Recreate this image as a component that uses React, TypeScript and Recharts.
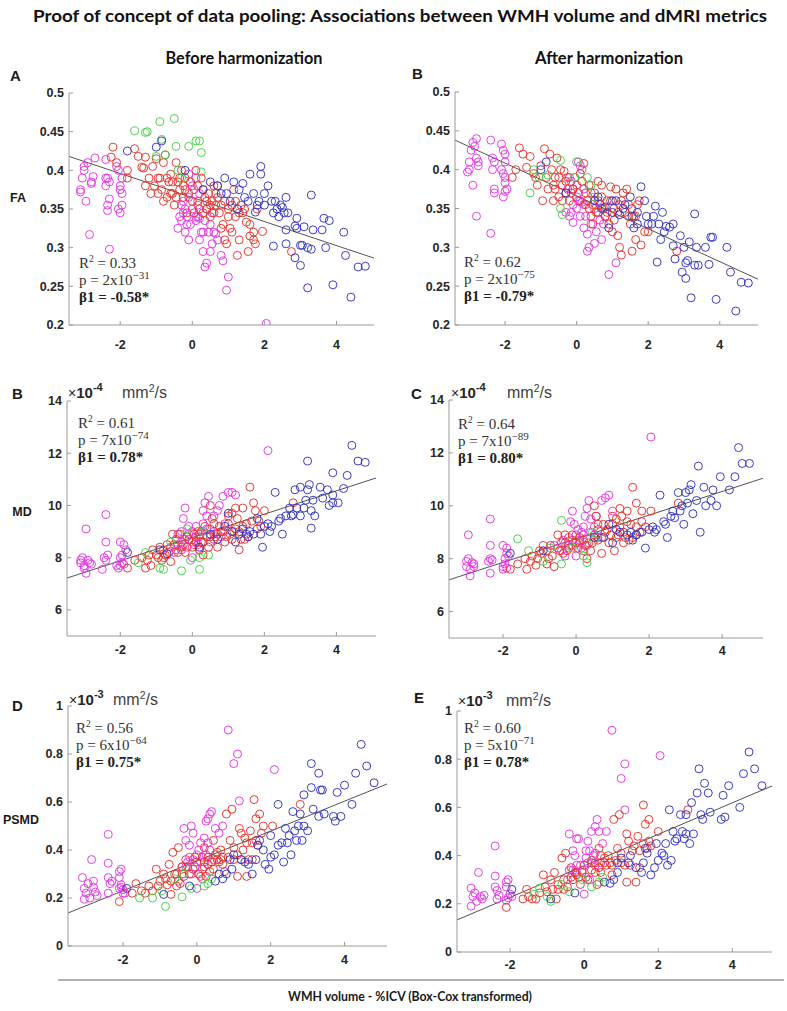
import React from 'react';
import { ScatterChart, Scatter, XAxis, YAxis, ReferenceLine } from 'recharts';

type P = number[][];

// ---------- FA, before harmonization ----------
const faBeforeMagenta: P = [[-3.1,0.375],[-3.1,0.372],[-3.05,0.39],[-3.0,0.405],[-3.0,0.4],[-2.95,0.36],[-2.9,0.41],[-2.8,0.385],[-2.8,0.383],[-2.75,0.392],[-2.7,0.416],[-2.85,0.317],[-2.4,0.414],[-2.4,0.39],[-2.35,0.39],[-2.4,0.38],[-2.35,0.355],[-2.35,0.348],[-2.3,0.385],[-2.3,0.363],[-2.3,0.298],[-2.05,0.4],[-2.0,0.38],[-2.0,0.375],[-1.95,0.37],[-2.05,0.35],[-1.95,0.355],[-2.0,0.345],[-1.95,0.39],[-2.1,0.405],
  [-0.3,0.355],[-0.25,0.36],[-0.2,0.35],[-0.1,0.365],[-0.15,0.34],[-0.3,0.335],[-0.35,0.34],[-0.2,0.32],[-0.1,0.31],[-0.15,0.33],[0.0,0.38],[0.05,0.375],[0.1,0.34],[0.15,0.34],[0.2,0.338],[0.25,0.32],[0.3,0.32],[0.3,0.295],[0.35,0.275],[0.4,0.28],[0.5,0.295],[0.6,0.32],[0.65,0.318],[0.8,0.29],[0.85,0.283],[1.0,0.262],[0.95,0.245],[2.05,0.202],[0.1,0.39],[0.2,0.37],[-0.1,0.395],[0.4,0.35],[0.5,0.33],[0.7,0.31],
  [-0.25,0.345],[0.0,0.35],[0.15,0.355],[0.1,0.335],[-0.05,0.33],[0.35,0.335],[0.45,0.32],[0.2,0.31],[0.55,0.305],[-0.4,0.325],[0.6,0.345]];
const faBeforeRed: P = [[-2.2,0.43],[-2.25,0.417],[-2.1,0.41],[-1.8,0.4],[-1.8,0.39],[-1.6,0.428],[-1.5,0.418],[-1.4,0.404],[-1.35,0.403],[-1.3,0.417],[-1.2,0.39],[-1.1,0.405],[-1.05,0.38],[-1.0,0.415],[-0.95,0.37],[-0.9,0.39],[-0.85,0.375],[-0.8,0.36],[-0.8,0.41],[-0.75,0.42],[-0.7,0.365],[-0.65,0.385],[-0.6,0.395],[-0.55,0.37],[-0.5,0.355],[-0.45,0.41],[-0.4,0.385],[-0.35,0.375],[-0.3,0.4],[-0.25,0.365],[-0.2,0.39],[-0.1,0.37],[0.0,0.36],[0.1,0.4],[0.15,0.36],[0.2,0.35],[0.25,0.39],[0.3,0.345],[0.35,0.365],[0.4,0.35],[0.45,0.37],[0.5,0.34],[0.55,0.36],[0.6,0.38],[0.65,0.355],[0.7,0.365],[0.75,0.345],[0.85,0.33],[0.9,0.31],[0.95,0.305],[1.0,0.35],[1.05,0.325],[1.1,0.32],[1.15,0.375],[1.2,0.34],[1.25,0.29],[1.3,0.31],[1.35,0.355],[1.4,0.345],[1.5,0.333],[1.55,0.295],[1.6,0.315],[1.7,0.31],[1.75,0.305],[1.8,0.35],[1.95,0.321],[2.75,0.295],[0.8,0.325],[1.2,0.36],[-0.15,0.345],[0.05,0.345],[0.7,0.38],
  [-1.15,0.37],[-0.95,0.39],[-0.7,0.39],[-0.6,0.37],[-0.45,0.365],[-0.35,0.39],[-0.25,0.38],[-0.05,0.385],[0.15,0.38],[0.3,0.375],[0.4,0.36],[0.55,0.345],[0.65,0.37],[0.8,0.355],[0.9,0.36],[1.0,0.34],[1.1,0.355],[1.3,0.345],[1.45,0.35],[1.6,0.33],[1.7,0.32],[0.5,0.355],[-0.55,0.385],[-1.3,0.38],[-0.2,0.375]];
const faBeforeGreen: P = [[-1.6,0.451],[-1.3,0.449],[-1.25,0.45],[-1.0,0.418],[-0.9,0.463],[-0.85,0.44],[-0.75,0.42],[-0.5,0.467],[-0.45,0.431],[-0.4,0.4],[-0.1,0.431],[0.1,0.438],[0.2,0.438],[0.25,0.423],[0.25,0.398],[-0.3,0.39]];
const faBeforeBlue: P = [[-1.8,0.425],[-1.0,0.43],[-0.85,0.438],[-0.2,0.4],[0.5,0.385],[0.7,0.38],[0.9,0.39],[0.95,0.37],[1.15,0.385],[1.3,0.375],[1.4,0.383],[1.6,0.395],[1.7,0.37],[1.8,0.355],[1.9,0.395],[1.9,0.405],[2.0,0.355],[2.1,0.38],[2.2,0.36],[2.3,0.36],[2.35,0.35],[2.4,0.34],[2.5,0.352],[2.55,0.345],[2.6,0.365],[2.65,0.345],[2.6,0.323],[2.9,0.338],[2.85,0.328],[2.9,0.325],[3.0,0.303],[3.05,0.303],[3.1,0.327],[3.2,0.3],[3.3,0.298],[3.3,0.368],[3.35,0.323],[3.6,0.323],[3.65,0.338],[3.8,0.335],[3.7,0.3],[4.2,0.32],[4.25,0.29],[4.4,0.236],[4.6,0.275],[4.8,0.276],[3.2,0.248],[3.9,0.252],[2.25,0.302],[2.6,0.305],[2.85,0.287],[3.0,0.277],[1.25,0.35],[1.55,0.36],[1.75,0.346],
  [1.05,0.36],[1.45,0.365],[2.0,0.37],[2.25,0.345],[2.45,0.355],[1.85,0.36],[0.8,0.37],[0.3,0.375]];
const faBeforeFit: P = [[-3.42,0.418],[5.04,0.2865]];

// ---------- FA, after harmonization ----------
const faAfterMagenta: P = [[-3.0,0.41],[-3.0,0.4],[-3.05,0.397],[-2.95,0.425],[-2.9,0.435],[-2.8,0.44],[-2.85,0.43],[-2.8,0.415],[-2.75,0.41],[-2.75,0.405],[-2.9,0.38],[-2.8,0.34],[-2.4,0.438],[-2.35,0.415],[-2.3,0.41],[-2.35,0.4],[-2.3,0.37],[-2.3,0.375],[-2.4,0.318],[-2.1,0.433],[-2.05,0.425],[-2.0,0.42],[-2.0,0.41],[-2.1,0.4],[-2.05,0.395],[-2.0,0.383],[-2.0,0.372],[-2.05,0.365],[-1.95,0.375],[-2.0,0.39],
  [-0.2,0.39],[-0.15,0.385],[-0.1,0.375],[0.0,0.365],[0.05,0.41],[0.1,0.405],[0.15,0.4],[0.1,0.36],[0.15,0.358],[-0.3,0.345],[-0.2,0.34],[-0.1,0.332],[0.0,0.35],[0.1,0.34],[0.3,0.317],[0.35,0.3],[0.3,0.295],[0.5,0.305],[0.7,0.31],[0.9,0.265],[1.1,0.28],[0.75,0.33],[0.5,0.35],[0.4,0.37],[0.2,0.375],[-0.05,0.39],[0.6,0.36],[0.8,0.34],
  [-0.25,0.375],[0.05,0.37],[0.2,0.355],[-0.1,0.355],[0.25,0.34],[0.4,0.33],[0.55,0.32],[0.2,0.325],[-0.15,0.345],[0.65,0.335]];
const faAfterRed: P = [[-1.6,0.428],[-1.5,0.42],[-1.4,0.403],[-1.3,0.417],[-1.2,0.395],[-1.15,0.39],[-1.0,0.405],[-0.9,0.427],[-0.85,0.39],[-0.75,0.42],[-0.7,0.4],[-0.6,0.39],[-0.55,0.415],[-0.5,0.365],[-0.45,0.4],[-0.4,0.38],[-0.35,0.398],[-0.3,0.37],[-0.25,0.39],[-0.2,0.36],[-0.1,0.375],[0.0,0.38],[0.1,0.395],[0.2,0.408],[0.25,0.37],[0.3,0.36],[0.35,0.35],[0.4,0.34],[0.5,0.37],[0.55,0.345],[0.6,0.385],[0.65,0.355],[0.7,0.38],[0.75,0.35],[0.8,0.34],[0.85,0.36],[0.9,0.33],[0.95,0.378],[1.0,0.32],[1.05,0.35],[1.1,0.375],[1.15,0.315],[1.2,0.3],[1.25,0.29],[1.3,0.37],[1.35,0.345],[1.4,0.375],[1.45,0.34],[1.5,0.33],[1.55,0.295],[1.6,0.34],[1.65,0.31],[1.7,0.355],[1.75,0.36],[1.8,0.303],[1.9,0.32],[2.0,0.32],[2.8,0.295],[-1.8,0.39],[-1.7,0.4],[-0.95,0.36],[-0.65,0.36],[0.45,0.33],[1.2,0.355],
  [-1.1,0.38],[-0.8,0.375],[-0.6,0.375],[-0.4,0.36],[-0.3,0.385],[-0.15,0.37],[0.05,0.36],[0.15,0.385],[0.35,0.38],[0.45,0.355],[0.6,0.345],[0.7,0.365],[0.85,0.345],[0.95,0.36],[1.05,0.335],[1.15,0.345],[1.25,0.36],[1.45,0.355],[1.55,0.35],[1.65,0.34],[0.25,0.355],[-0.65,0.38],[-0.5,0.39]];
const faAfterGreen: P = [[-1.3,0.37],[-1.05,0.39],[-0.8,0.393],[-0.45,0.412],[-0.45,0.35],[-0.4,0.342],[-0.05,0.39],[0.3,0.39],[0.4,0.38],[0.5,0.365],[-1.2,0.4],[0.0,0.41]];
const faAfterBlue: P = [[-1.0,0.4],[-0.85,0.41],[-0.3,0.37],[0.5,0.36],[0.7,0.35],[0.8,0.352],[0.9,0.325],[1.0,0.345],[1.1,0.36],[1.2,0.342],[1.5,0.365],[1.55,0.34],[1.6,0.325],[1.7,0.33],[1.8,0.378],[1.9,0.36],[2.0,0.33],[2.1,0.33],[2.2,0.353],[2.3,0.33],[2.4,0.345],[2.35,0.31],[2.5,0.327],[2.6,0.326],[2.7,0.33],[2.7,0.302],[2.75,0.285],[2.25,0.281],[2.9,0.315],[3.0,0.3],[3.05,0.28],[3.1,0.283],[3.15,0.307],[2.95,0.268],[3.05,0.26],[3.2,0.235],[3.3,0.277],[3.35,0.3],[3.3,0.343],[3.4,0.277],[3.6,0.3],[3.7,0.278],[3.75,0.313],[3.8,0.313],[3.9,0.233],[4.2,0.3],[4.3,0.268],[4.45,0.218],[4.6,0.255],[4.8,0.254],[1.3,0.35],
  [1.0,0.36],[1.35,0.355],[1.7,0.345],[1.95,0.34],[2.15,0.34],[2.45,0.32],[0.6,0.365]];
const faAfterFit: P = [[-3.4,0.438],[5.07,0.259]];

// ---------- MD, before harmonization ----------
const mdBeforeMagenta: P = [[-3.1,7.8],[-3.1,7.9],[-3.05,8.0],[-3.0,7.7],[-3.0,7.6],[-2.95,7.4],[-2.9,7.9],[-2.85,7.8],[-2.8,7.75],[-2.95,9.1],[-2.5,7.55],[-2.45,8.0],[-2.4,7.9],[-2.35,8.1],[-2.4,8.6],[-2.4,9.65],[-2.05,7.6],[-2.0,7.7],[-1.95,7.8],[-1.9,7.75],[-2.0,8.0],[-1.95,8.1],[-1.9,8.5],[-2.0,8.6],[-1.85,8.3],[-2.1,7.7],
  [-0.6,8.4],[-0.5,8.2],[-0.4,8.5],[-0.3,8.3],[-0.3,9.0],[-0.25,9.5],[-0.2,9.9],[-0.2,8.7],[-0.1,8.9],[0.0,8.6],[0.0,8.0],[0.1,9.2],[0.2,8.8],[0.3,9.3],[0.3,9.8],[0.35,10.1],[0.4,9.6],[0.45,10.35],[0.5,9.1],[0.6,9.0],[0.7,9.8],[0.75,10.0],[0.85,10.35],[0.9,9.3],[1.0,10.5],[1.1,10.5],[1.2,10.4],[2.1,12.1],[0.2,8.3],[-0.4,8.9],[0.5,8.6],[0.8,8.8],
  [-0.45,8.3],[-0.3,8.6],[-0.15,8.4],[0.0,9.0],[0.1,8.8],[0.25,9.0],[0.4,9.1],[-0.1,9.2],[0.6,9.6],[0.15,8.5]];
const mdBeforeRed: P = [[-1.8,7.6],[-1.6,7.9],[-1.3,7.6],[-1.25,7.9],[-1.2,8.1],[-1.15,7.7],[-1.0,8.1],[-0.9,8.4],[-0.85,7.9],[-0.8,8.3],[-0.75,8.1],[-0.7,8.5],[-0.6,7.85],[-0.55,8.9],[-0.5,8.5],[-0.4,8.2],[-0.35,8.9],[-0.25,8.5],[-0.2,8.2],[-0.1,8.7],[0.0,8.4],[0.05,8.9],[0.1,8.6],[0.15,9.0],[0.2,8.3],[0.25,8.6],[0.3,8.1],[0.4,8.8],[0.5,10.0],[0.55,9.5],[0.6,8.7],[0.65,8.8],[0.7,8.4],[0.75,9.2],[0.8,9.0],[0.9,8.6],[1.0,9.3],[1.05,8.9],[1.1,9.7],[1.2,9.9],[1.25,9.5],[1.3,8.3],[1.4,9.2],[1.45,8.7],[1.55,8.8],[1.6,10.7],[1.7,10.1],[1.75,9.8],[1.85,9.4],[1.9,9.2],[2.0,9.8],[2.8,10.1],[1.35,8.7],[1.15,9.0],[0.35,9.2],[-1.4,8.0],
  [-1.1,8.3],[-0.95,8.0],[-0.65,8.2],[-0.45,8.7],[-0.3,8.4],[-0.15,8.8],[0.05,8.5],[0.2,8.9],[0.3,8.6],[0.5,8.8],[0.6,9.3],[0.7,8.9],[0.85,9.0],[0.95,8.8],[1.1,8.7],[1.2,9.1],[1.3,9.0],[1.5,9.3],[1.65,9.4],[1.8,9.1],[0.45,8.4],[-0.8,8.0],[1.0,9.6],[1.4,9.9]];
const mdBeforeGreen: P = [[-1.3,8.2],[-1.5,7.8],[-0.9,7.6],[-0.8,7.55],[-0.6,8.6],[-0.3,7.5],[-0.15,9.1],[-0.05,7.9],[0.2,7.55],[0.2,8.0],[0.45,8.1],[0.3,9.0]];
const mdBeforeBlue: P = [[-1.8,8.2],[-0.9,8.3],[-0.7,8.15],[0.2,8.4],[0.5,8.9],[0.9,9.2],[1.0,9.7],[1.2,8.6],[1.3,8.9],[1.4,9.1],[1.5,8.9],[1.6,9.0],[1.8,9.5],[1.9,8.9],[1.95,8.4],[2.0,9.2],[2.1,9.3],[2.2,9.2],[2.3,10.5],[2.4,9.4],[2.5,8.9],[2.6,9.6],[2.7,9.9],[2.75,9.6],[2.8,9.65],[2.85,10.6],[3.0,10.7],[3.0,9.6],[3.1,9.9],[3.15,10.2],[3.2,10.6],[3.25,10.8],[3.3,9.8],[3.35,10.2],[3.4,9.6],[3.2,11.7],[3.55,10.7],[3.3,9.13],[3.62,10.28],[3.8,10.0],[3.9,10.4],[3.75,10.6],[4.05,10.1],[4.3,11.15],[3.9,11.25],[4.2,10.65],[4.43,12.3],[4.6,11.7],[4.8,11.65],[3.9,10.1],
  [1.7,8.9],[2.15,9.0],[2.45,9.5],[2.9,9.9],[1.1,9.0],[0.7,8.7],[1.55,8.8]];
const mdBeforeFit: P = [[-3.48,7.22],[5.1,11.05]];

// ---------- MD, after harmonization ----------
const mdAfterMagenta: P = [[-3.0,7.7],[-3.0,7.9],[-2.95,8.0],[-2.9,7.6],[-2.9,7.35],[-2.85,7.85],[-2.8,7.8],[-2.8,7.7],[-2.95,8.9],[-2.35,7.45],[-2.4,7.9],[-2.35,8.0],[-2.3,7.95],[-2.35,8.5],[-2.35,9.5],[-2.0,7.6],[-2.0,7.7],[-1.95,7.8],[-1.9,7.65],[-1.95,8.0],[-1.9,8.2],[-1.9,8.4],[-2.0,8.5],[-1.85,8.1],
  [-0.6,8.5],[-0.4,8.3],[-0.3,8.6],[-0.2,8.8],[-0.15,9.4],[-0.1,9.8],[-0.1,8.5],[0.0,8.9],[0.0,8.1],[0.1,8.7],[0.15,9.0],[0.2,9.2],[0.25,9.6],[0.3,9.9],[0.35,10.2],[0.4,9.5],[0.5,9.2],[0.6,9.1],[0.7,10.2],[0.8,10.3],[0.9,10.4],[1.0,9.8],[0.6,8.8],[2.05,12.6],[-0.3,8.1],[0.3,8.5],
  [-0.5,8.4],[-0.35,8.7],[-0.2,8.5],[0.05,9.1],[0.1,8.6],[0.2,8.9],[0.4,9.0],[-0.05,9.3],[0.55,9.6],[0.15,8.4]];
const mdAfterRed: P = [[-1.8,7.6],[-1.6,7.8],[-1.35,7.6],[-1.25,7.9],[-1.2,8.1],[-1.1,7.75],[-1.0,8.3],[-0.9,8.5],[-0.8,7.8],[-0.75,8.0],[-0.7,8.5],[-0.6,7.7],[-0.5,8.9],[-0.45,8.3],[-0.35,8.2],[-0.3,8.9],[-0.2,8.4],[-0.1,8.7],[0.0,8.6],[0.1,8.8],[0.2,8.3],[0.25,8.5],[0.3,8.0],[0.45,8.6],[0.5,10.0],[0.55,9.6],[0.6,8.7],[0.7,8.2],[0.75,9.3],[0.8,9.0],[0.9,8.6],[1.0,9.3],[1.05,8.3],[1.1,9.5],[1.2,9.9],[1.25,9.6],[1.3,8.6],[1.4,9.4],[1.45,8.7],[1.55,8.8],[1.55,10.7],[1.65,10.1],[1.8,9.8],[1.8,9.4],[1.9,9.2],[2.05,9.8],[2.8,10.1],[1.35,8.8],[1.15,8.9],[-1.4,8.0],
  [-1.05,8.0],[-0.95,8.2],[-0.65,8.1],[-0.4,8.6],[-0.25,8.3],[-0.1,8.9],[0.05,8.4],[0.2,8.7],[0.35,8.6],[0.5,8.9],[0.6,9.3],[0.7,8.8],[0.85,9.1],[0.95,8.9],[1.1,8.8],[1.2,9.2],[1.3,9.0],[1.5,9.3],[1.65,9.2],[1.75,9.0],[0.4,8.3],[-0.8,8.3],[1.0,9.6],[1.4,9.8]];
const mdAfterGreen: P = [[-1.6,8.75],[-1.3,8.3],[-0.9,7.9],[-0.7,8.4],[-0.4,9.45],[-0.4,7.8],[-0.1,8.4],[0.3,7.85],[0.2,8.1],[0.5,8.7],[0.45,9.0]];
const mdAfterBlue: P = [[-1.8,8.2],[-0.9,8.3],[0.5,8.8],[0.9,9.3],[1.0,8.6],[1.2,9.0],[1.4,8.9],[1.5,9.0],[1.65,8.9],[1.8,9.0],[1.9,8.4],[2.0,9.1],[2.1,9.2],[2.2,9.1],[2.3,10.4],[2.4,9.4],[2.5,8.8],[2.6,9.6],[2.65,9.8],[2.7,9.55],[2.8,10.5],[2.9,10.0],[3.0,10.5],[3.05,10.1],[3.1,10.6],[3.15,10.8],[3.2,9.7],[3.3,10.2],[3.35,11.5],[3.4,9.0],[3.5,10.7],[3.55,10.0],[3.7,10.2],[3.75,10.6],[3.85,10.0],[3.95,11.1],[4.2,10.6],[4.35,11.1],[4.45,12.2],[4.55,11.6],[4.75,11.6],[2.95,9.3],
  [1.65,8.9],[2.15,9.0],[2.45,9.3],[2.85,9.8],[1.1,9.1],[0.75,8.8],[1.55,8.7]];
const mdAfterFit: P = [[-3.48,7.2],[5.12,11.04]];

// ---------- PSMD, before harmonization ----------
const psBeforeMagenta: P = [[-3.1,0.285],[-3.05,0.24],[-3.0,0.22],[-3.05,0.195],[-2.95,0.26],[-2.9,0.2],[-2.85,0.36],[-2.8,0.27],[-2.8,0.245],[-2.75,0.225],[-2.7,0.21],[-2.4,0.465],[-2.4,0.345],[-2.4,0.285],[-2.35,0.26],[-2.4,0.22],[-2.3,0.27],[-2.1,0.31],[-2.05,0.32],[-2.1,0.285],[-2.05,0.255],[-2.0,0.235],[-2.0,0.22],[-2.05,0.245],[-1.95,0.22],[-2.1,0.24],
  [-0.5,0.27],[-0.4,0.3],[-0.35,0.49],[-0.3,0.44],[-0.25,0.35],[-0.2,0.42],[-0.15,0.5],[-0.1,0.47],[-0.1,0.36],[0.0,0.38],[0.0,0.24],[0.1,0.43],[0.15,0.32],[0.2,0.45],[0.25,0.52],[0.3,0.53],[0.35,0.55],[0.4,0.56],[0.5,0.49],[0.6,0.47],[0.7,0.5],[0.85,0.9],[1.0,0.76],[1.1,0.8],[1.15,0.605],[2.1,0.735],[0.2,0.35],[-0.3,0.33],[0.35,0.4],
  [-0.4,0.33],[-0.2,0.37],[-0.05,0.33],[0.1,0.35],[0.25,0.38],[0.05,0.4],[0.3,0.43],[-0.15,0.3],[0.45,0.36],[0.15,0.28]];
const psBeforeRed: P = [[-2.1,0.185],[-1.75,0.22],[-1.65,0.26],[-1.4,0.22],[-1.3,0.25],[-1.2,0.23],[-1.1,0.32],[-1.0,0.27],[-0.9,0.3],[-0.8,0.255],[-0.75,0.34],[-0.7,0.215],[-0.65,0.39],[-0.6,0.3],[-0.5,0.41],[-0.45,0.26],[-0.4,0.33],[-0.3,0.36],[-0.2,0.3],[-0.1,0.32],[0.0,0.35],[0.1,0.29],[0.15,0.37],[0.2,0.41],[0.3,0.34],[0.35,0.31],[0.45,0.44],[0.5,0.38],[0.55,0.36],[0.6,0.35],[0.65,0.4],[0.7,0.37],[0.75,0.31],[0.8,0.55],[0.9,0.44],[0.95,0.57],[1.0,0.36],[1.1,0.29],[1.15,0.49],[1.2,0.47],[1.25,0.4],[1.3,0.45],[1.35,0.29],[1.4,0.36],[1.45,0.48],[1.55,0.61],[1.6,0.53],[1.7,0.55],[1.8,0.5],[2.05,0.5],[2.8,0.59],[1.5,0.43],[1.65,0.42],[0.25,0.29],[-0.55,0.25],
  [-1.5,0.23],[-1.05,0.25],[-0.85,0.28],[-0.55,0.3],[-0.35,0.29],[-0.25,0.33],[-0.05,0.37],[0.05,0.3],[0.2,0.33],[0.3,0.37],[0.4,0.35],[0.55,0.39],[0.65,0.36],[0.7,0.34],[0.85,0.37],[1.0,0.41],[1.1,0.38],[1.2,0.36],[1.35,0.43],[1.5,0.36],[1.6,0.44],[1.75,0.47],[0.45,0.32],[-0.7,0.27]];
const psBeforeGreen: P = [[-1.55,0.2],[-1.2,0.2],[-0.95,0.23],[-0.85,0.165],[-0.6,0.28],[-0.4,0.205],[-0.35,0.3],[-0.15,0.24],[0.2,0.25],[0.3,0.26],[0.4,0.28]];
const psBeforeBlue: P = [[-1.9,0.24],[-0.9,0.215],[-0.2,0.25],[0.6,0.3],[0.7,0.28],[0.8,0.3],[0.95,0.32],[1.0,0.38],[1.3,0.35],[1.4,0.34],[1.5,0.3],[1.6,0.36],[1.7,0.44],[1.8,0.4],[1.85,0.34],[1.95,0.32],[2.0,0.46],[2.1,0.38],[2.2,0.42],[2.3,0.43],[2.35,0.35],[2.4,0.49],[2.5,0.46],[2.55,0.38],[2.2,0.59],[2.6,0.56],[2.65,0.48],[2.7,0.44],[2.8,0.55],[2.85,0.44],[2.9,0.5],[2.9,0.63],[3.0,0.48],[3.1,0.66],[3.15,0.57],[3.1,0.76],[3.3,0.72],[3.35,0.65],[3.4,0.65],[3.45,0.55],[3.3,0.54],[3.7,0.54],[3.75,0.52],[3.8,0.64],[3.9,0.54],[4.0,0.67],[4.2,0.59],[4.3,0.72],[4.45,0.84],[4.6,0.75],[4.8,0.68],
  [1.2,0.36],[1.65,0.42],[2.0,0.37],[2.45,0.43],[2.75,0.5],[0.9,0.36],[0.5,0.27]];
const psBeforeFit: P = [[-3.49,0.1375],[5.15,0.675]];

// ---------- PSMD, after harmonization ----------
const psAfterMagenta: P = [[-3.05,0.19],[-3.05,0.265],[-3.0,0.23],[-2.95,0.245],[-2.9,0.21],[-2.85,0.33],[-2.8,0.23],[-2.75,0.22],[-2.7,0.235],[-2.4,0.44],[-2.4,0.315],[-2.4,0.27],[-2.35,0.255],[-2.3,0.235],[-2.35,0.22],[-2.1,0.29],[-2.05,0.3],[-2.1,0.27],[-2.0,0.24],[-2.05,0.225],[-1.95,0.23],[-2.1,0.215],
  [-0.45,0.3],[-0.4,0.49],[-0.3,0.42],[-0.25,0.4],[-0.2,0.47],[-0.15,0.47],[-0.1,0.36],[0.0,0.24],[0.05,0.39],[0.1,0.46],[0.15,0.42],[0.2,0.5],[0.3,0.52],[0.35,0.55],[0.4,0.5],[0.5,0.45],[0.6,0.5],[0.75,0.92],[1.0,0.72],[1.1,0.78],[1.1,0.59],[2.05,0.815],[0.2,0.37],[-0.2,0.33],[0.3,0.36],[-0.3,0.34],
  [-0.4,0.34],[-0.2,0.36],[-0.05,0.34],[0.1,0.37],[0.25,0.4],[0.05,0.42],[0.3,0.41],[-0.15,0.31],[0.45,0.37],[0.15,0.3]];
const psAfterRed: P = [[-2.1,0.185],[-1.65,0.22],[-1.55,0.26],[-1.4,0.22],[-1.3,0.22],[-1.2,0.245],[-1.1,0.32],[-1.0,0.25],[-0.9,0.3],[-0.8,0.33],[-0.75,0.22],[-0.7,0.26],[-0.6,0.39],[-0.5,0.41],[-0.45,0.27],[-0.35,0.35],[-0.3,0.3],[-0.2,0.32],[-0.1,0.28],[0.0,0.36],[0.1,0.3],[0.2,0.38],[0.3,0.33],[0.4,0.43],[0.45,0.4],[0.55,0.39],[0.6,0.36],[0.7,0.37],[0.75,0.32],[0.8,0.55],[0.9,0.43],[0.95,0.57],[1.0,0.37],[1.15,0.49],[1.15,0.29],[1.2,0.46],[1.3,0.42],[1.4,0.29],[1.45,0.48],[1.5,0.35],[1.6,0.61],[1.65,0.53],[1.75,0.55],[1.8,0.44],[2.0,0.5],[2.8,0.59],[1.7,0.43],[0.35,0.28],[-0.55,0.26],
  [-1.5,0.23],[-1.05,0.27],[-0.85,0.26],[-0.55,0.3],[-0.35,0.31],[-0.25,0.33],[-0.05,0.33],[0.05,0.31],[0.2,0.34],[0.3,0.37],[0.4,0.35],[0.55,0.37],[0.65,0.4],[0.75,0.36],[0.85,0.38],[1.0,0.41],[1.1,0.36],[1.25,0.36],[1.35,0.44],[1.5,0.42],[1.6,0.45],[1.75,0.46],[0.45,0.33],[-0.7,0.28]];
const psAfterGreen: P = [[-1.35,0.24],[-1.2,0.265],[-1.0,0.23],[-0.9,0.21],[-0.6,0.28],[-0.4,0.25],[-0.05,0.3],[0.2,0.27],[0.4,0.29],[0.5,0.31]];
const psAfterBlue: P = [[-1.95,0.26],[-0.9,0.22],[-0.25,0.245],[0.7,0.285],[0.8,0.3],[0.9,0.33],[1.0,0.39],[1.25,0.4],[1.4,0.35],[1.55,0.33],[1.6,0.37],[1.7,0.41],[1.8,0.32],[1.9,0.35],[1.95,0.45],[2.1,0.41],[2.15,0.4],[2.2,0.45],[2.25,0.36],[2.35,0.38],[2.3,0.59],[2.4,0.5],[2.5,0.47],[2.6,0.57],[2.65,0.5],[2.7,0.47],[2.75,0.57],[2.85,0.45],[2.9,0.62],[2.95,0.49],[3.05,0.66],[3.1,0.76],[3.15,0.57],[3.2,0.55],[3.25,0.7],[3.35,0.66],[3.4,0.58],[3.7,0.55],[3.75,0.65],[3.8,0.56],[3.9,0.69],[4.2,0.6],[4.3,0.74],[4.45,0.83],[4.6,0.76],[4.8,0.69],
  [1.2,0.37],[1.65,0.43],[2.0,0.38],[2.45,0.46],[2.75,0.49],[0.9,0.37],[0.55,0.29]];
const psAfterFit: P = [[-3.43,0.133],[5.07,0.689]];

// ---------- ticks and text ----------
const xTicks = [-2, 0, 2, 4];
const faTicks = [0.2, 0.25, 0.3, 0.35, 0.4, 0.45, 0.5];
const mdTicks = [6, 8, 10, 12, 14];
const psTicks = [0, 0.2, 0.4, 0.6, 0.8, 1];

const r2Values = ['0.33', '0.62', '0.61', '0.64', '0.56', '0.60'];
const pMantissa = ['2', '2', '7', '7', '6', '5'];
const pExponent = ['−31', '−75', '−74', '−89', '−64', '−71'];
const betaValues = ['-0.58*', '-0.79*', '0.78*', '0.80*', '0.75*', '0.78*'];
const panelLetters = ['A', 'B', 'B', 'C', 'D', 'E'];
const multExponents = ['', '', '-4', '-4', '-3', '-3'];

const COLORS = ['#e236e2', '#e2352c', '#45cf45', '#3333c2'];

const toPts = (a: P) => a.map(([x, y]) => ({ x, y }));

const makeShape = (color: string) => (props: any) => {
  const { cx, cy } = props;
  if (cx == null || cy == null || isNaN(cx) || isNaN(cy)) return <g />;
  return <circle cx={cx} cy={cy} r={4} fill="none" stroke={color} strokeWidth={0.95} />;
};

type Panel = {
  rect: [number, number, number, number];
  xDomain: [number, number];
  yDomain: [number, number];
  yTicks: number[];
  xTickMargin: number;
  groups: P[];
  fit: P;
  stats: [number, number];
  letter: [number, number];
  mult?: [number, number, number];
};

const panels: Panel[] = [
  { rect: [69, 93, 374, 325], xDomain: [-3.42, 5.04], yDomain: [0.2, 0.5], yTicks: faTicks, xTickMargin: 19,
    groups: [faBeforeMagenta, faBeforeRed, faBeforeGreen, faBeforeBlue], fit: faBeforeFit, stats: [79, 263], letter: [10, 75] },
  { rect: [455, 92, 758, 325], xDomain: [-3.4, 5.07], yDomain: [0.2, 0.5], yTicks: faTicks, xTickMargin: 19,
    groups: [faAfterMagenta, faAfterRed, faAfterGreen, faAfterBlue], fit: faAfterFit, stats: [464, 262], letter: [412, 73] },
  { rect: [67, 401, 376, 636], xDomain: [-3.48, 5.1], yDomain: [5, 14], yTicks: mdTicks, xTickMargin: 13.5,
    groups: [mdBeforeMagenta, mdBeforeRed, mdBeforeGreen, mdBeforeBlue], fit: mdBeforeFit, stats: [78, 423], letter: [12, 393], mult: [68, 392, 122] },
  { rect: [449, 400, 763, 638], xDomain: [-3.48, 5.12], yDomain: [5, 14], yTicks: mdTicks, xTickMargin: 12,
    groups: [mdAfterMagenta, mdAfterRed, mdAfterGreen, mdAfterBlue], fit: mdAfterFit, stats: [458, 424], letter: [411, 393], mult: [451, 392, 507] },
  { rect: [68, 706, 387, 946], xDomain: [-3.49, 5.15], yDomain: [0, 1], yTicks: psTicks, xTickMargin: 13.5,
    groups: [psBeforeMagenta, psBeforeRed, psBeforeGreen, psBeforeBlue], fit: psBeforeFit, stats: [76, 728], letter: [12, 705], mult: [69, 699, 113] },
  { rect: [457, 711, 772, 952], xDomain: [-3.43, 5.07], yDomain: [0, 1], yTicks: psTicks, xTickMargin: 12.5,
    groups: [psAfterMagenta, psAfterRed, psAfterGreen, psAfterBlue], fit: psAfterFit, stats: [464, 728], letter: [414, 697], mult: [458, 700, 506] },
];

const Y_W = 60;
const M_TOP = 10;
const M_RIGHT = 10;
const X_H = 40;
const AXIS_COLOR = '#9a9a9a';
const TICK_STYLE = { fontSize: 12.5, fontWeight: 700, fill: '#262626', fontFamily: '"Liberation Sans", Arial, sans-serif' };

function PanelChart({ p }: { p: Panel }) {
  const [l, t, r, b] = p.rect;
  const left = l - Y_W;
  const top = t - M_TOP;
  const width = r - left + M_RIGHT;
  const height = b - top + X_H;
  return (
    <div style={{ position: 'absolute', left, top, width, height }}>
      <ScatterChart width={width} height={height} margin={{ top: M_TOP, right: M_RIGHT, bottom: 0, left: 0 }}>
        <XAxis type="number" dataKey="x" domain={p.xDomain} ticks={xTicks} interval={0} allowDataOverflow
          height={X_H} axisLine={{ stroke: AXIS_COLOR }} tickLine={{ stroke: AXIS_COLOR }} tickSize={-4}
          tickMargin={p.xTickMargin} tick={TICK_STYLE} />
        <YAxis type="number" dataKey="y" domain={p.yDomain} ticks={p.yTicks} interval={0} allowDataOverflow
          width={Y_W} axisLine={{ stroke: AXIS_COLOR }} tickLine={{ stroke: AXIS_COLOR }} tickSize={-4}
          tickMargin={9} tick={TICK_STYLE} />
        {p.groups.map((g, i) => (
          <Scatter key={i} data={toPts(g)} isAnimationActive={false} shape={makeShape(COLORS[i])} />
        ))}
        <ReferenceLine segment={[{ x: p.fit[0][0], y: p.fit[0][1] }, { x: p.fit[1][0], y: p.fit[1][1] }]}
          stroke="#404040" strokeWidth={0.9} ifOverflow="visible" />
      </ScatterChart>
    </div>
  );
}

const SERIF = '"Liberation Serif", "Times New Roman", serif';
const SANS = '"Liberation Sans", Arial, sans-serif';
const HEAD = 'Lato, "Open Sans", sans-serif';

function Overlay() {
  return (
    <svg width={787} height={1011} style={{ position: 'absolute', left: 0, top: 0, pointerEvents: 'none' }}>
      <text x={400} y={22} textAnchor="middle" fontFamily={HEAD} fontWeight={700} fontSize={17.5} fill="#111"
        textLength={734} lengthAdjust="spacingAndGlyphs">
        Proof of concept of data pooling: Associations between WMH volume and dMRI metrics
      </text>
      <text x={244} y={64} textAnchor="middle" fontFamily={HEAD} fontWeight={700} fontSize={16.5} fill="#111"
        textLength={157} lengthAdjust="spacingAndGlyphs">Before harmonization</text>
      <text x={609} y={64} textAnchor="middle" fontFamily={HEAD} fontWeight={700} fontSize={16.5} fill="#111"
        textLength={148} lengthAdjust="spacingAndGlyphs">After harmonization</text>

      <text x={18} y={202} textAnchor="middle" fontFamily={SANS} fontWeight={700} fontSize={12.5} fill="#1a1a1a">FA</text>
      <text x={22} y={516} textAnchor="middle" fontFamily={SANS} fontWeight={700} fontSize={12.5} fill="#1a1a1a">MD</text>
      <text x={21} y={824} textAnchor="middle" fontFamily={SANS} fontWeight={700} fontSize={12.5} fill="#1a1a1a">PSMD</text>

      {panels.map((p, i) => (
        <g key={i}>
          <text x={p.letter[0]} y={p.letter[1] + 5.5} fontFamily={SANS} fontWeight={700} fontSize={15} fill="#1a1a1a">
            {panelLetters[i]}
          </text>
          {p.mult && (
            <g>
              <text x={p.mult[0]} y={p.mult[1] + 6} fontFamily={SANS} fontSize={14} fill="#262626">
                <tspan>×</tspan>
                <tspan fontWeight={700} fontSize={15}>10</tspan>
                <tspan fontWeight={700} fontSize={11} dy={-7}>{multExponents[i]}</tspan>
              </text>
              <text x={p.mult[2]} y={p.mult[1] + 6} fontFamily={SANS} fontSize={16} fill="#404040">
                <tspan>mm</tspan>
                <tspan fontSize={10.5} dy={-6}>2</tspan>
                <tspan dy={6}>/s</tspan>
              </text>
            </g>
          )}
          <text x={p.stats[0]} y={p.stats[1] + 5} fontFamily={SERIF} fontSize={15} fill="#333">
            <tspan>R</tspan>
            <tspan fontSize={9.5} dy={-6}>2</tspan>
            <tspan dy={6}>{' = ' + r2Values[i]}</tspan>
          </text>
          <text x={p.stats[0]} y={p.stats[1] + 22} fontFamily={SERIF} fontSize={15} fill="#333">
            <tspan>{'p = ' + pMantissa[i] + 'x10'}</tspan>
            <tspan fontSize={11} dy={-6}>{pExponent[i]}</tspan>
          </text>
          <text x={p.stats[0]} y={p.stats[1] + 39} fontFamily={SERIF} fontSize={15} fontWeight={700} fill="#222">
            {'β1 = ' + betaValues[i]}
          </text>
        </g>
      ))}

      <line x1={58} y1={980} x2={784} y2={980} stroke="#9a9a9a" strokeWidth={1.5} />
      <text x={410} y={1001} textAnchor="middle" fontFamily={HEAD} fontWeight={700} fontSize={12.5} fill="#1a1a1a"
        textLength={244} lengthAdjust="spacingAndGlyphs">WMH volume  - %ICV (Box-Cox transformed)</text>
    </svg>
  );
}

export default function App() {
  return (
    <div style={{ position: 'absolute', left: 0, top: 0, width: 787, height: 1011, background: '#fff' }}>
      {panels.map((p, i) => <PanelChart key={i} p={p} />)}
      <Overlay />
    </div>
  );
}
